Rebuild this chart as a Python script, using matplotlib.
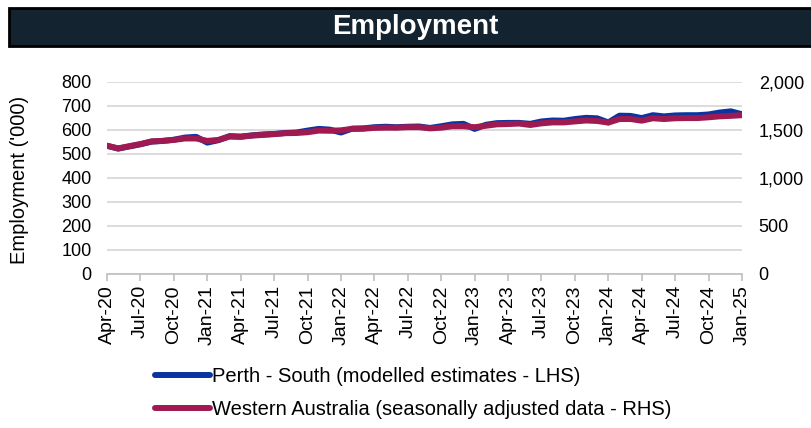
import matplotlib
matplotlib.use("Agg")
import matplotlib.pyplot as plt
from matplotlib.patches import Rectangle
from matplotlib.ticker import FuncFormatter, MultipleLocator

plt.rcParams['font.family'] = ['Liberation Sans', 'DejaVu Sans']

months = ["Apr-20", "May-20", "Jun-20", "Jul-20", "Aug-20", "Sep-20", "Oct-20", "Nov-20", "Dec-20",
          "Jan-21", "Feb-21", "Mar-21", "Apr-21", "May-21", "Jun-21", "Jul-21", "Aug-21", "Sep-21",
          "Oct-21", "Nov-21", "Dec-21", "Jan-22", "Feb-22", "Mar-22", "Apr-22", "May-22", "Jun-22",
          "Jul-22", "Aug-22", "Sep-22", "Oct-22", "Nov-22", "Dec-22", "Jan-23", "Feb-23", "Mar-23",
          "Apr-23", "May-23", "Jun-23", "Jul-23", "Aug-23", "Sep-23", "Oct-23", "Nov-23", "Dec-23",
          "Jan-24", "Feb-24", "Mar-24", "Apr-24", "May-24", "Jun-24", "Jul-24", "Aug-24", "Sep-24",
          "Oct-24", "Nov-24", "Dec-24", "Jan-25"]

perth_south = [533, 521, 530, 539, 550, 553, 558, 567, 570, 546, 556, 573, 571, 576, 580, 582,
               586, 588, 596, 603, 600, 588, 604, 605, 610, 612, 610, 612, 613, 607, 614, 622,
               624, 603, 620, 627, 628, 628, 624, 634, 638, 637, 644, 649, 647, 630, 658, 657,
               648, 660, 655, 659, 660, 660, 663, 671, 676, 664]

western_australia = [1332, 1305, 1328, 1350, 1378, 1383, 1393, 1408, 1408, 1383, 1393, 1428, 1425,
                     1438, 1445, 1453, 1463, 1465, 1473, 1490, 1488, 1493, 1508, 1510, 1518, 1520,
                     1520, 1525, 1525, 1513, 1520, 1535, 1535, 1525, 1540, 1555, 1558, 1563, 1548,
                     1565, 1575, 1575, 1585, 1595, 1590, 1573, 1610, 1610, 1593, 1618, 1610, 1618,
                     1620, 1620, 1628, 1638, 1643, 1650]

label_perth = "Perth - South (modelled estimates - LHS)"
label_wa = "Western Australia (seasonally adjusted data - RHS)"
title = "Employment"
ylabel = "Employment ('000)"

W, H = 811, 428
fig = plt.figure(figsize=(W / 100, H / 100), dpi=100)

# Title bar
fig.patches.append(Rectangle((9 / W, 1 - 46 / H), 1.0, 38 / H, transform=fig.transFigure,
                             facecolor="#13232f", edgecolor="black", linewidth=2, zorder=0))
fig.text(415 / W, 1 - 27 / H, title, color="white", fontsize=20, fontweight="bold",
         ha="center", va="center")

ax = fig.add_axes([107 / W, 1 - 274 / H, (742 - 107) / W, (274 - 81.5) / H])
x = list(range(len(months)))

ax.set_ylim(0, 800)
ax.set_xlim(0, len(months) - 1)
ax.yaxis.set_major_locator(MultipleLocator(100))
ax.grid(axis="y", color="#d9d9d9", linewidth=1.3)
ax.set_axisbelow(True)
for s in ["left", "right", "top"]:
    ax.spines[s].set_visible(False)
ax.spines["bottom"].set_color("#bfbfbf")
ax.spines["bottom"].set_linewidth(1.2)
ax.tick_params(axis="y", length=0, pad=11, labelsize=13)
ax.set_xticks(x[::3])
ax.set_xticklabels(months[::3], rotation=90, fontsize=14)
ax.tick_params(axis="x", length=5, color="#bfbfbf", width=1.2, pad=3)
fig.text(20 / W, 1 - 180 / H, ylabel, fontsize=14.5, rotation=90, ha="center", va="center")

l1, = ax.plot(x, perth_south, color="#0a34a0", linewidth=4.3, solid_capstyle="round",
              label=label_perth, zorder=3)

ax2 = ax.twinx()
ax2.set_ylim(0, 2000)
ax2.yaxis.set_major_locator(MultipleLocator(500))
ax2.yaxis.set_major_formatter(FuncFormatter(lambda v, p: f"{int(v):,}"))
for s in ["left", "right", "top", "bottom"]:
    ax2.spines[s].set_visible(False)
ax2.tick_params(axis="y", length=0, pad=12, labelsize=13)
l2, = ax2.plot(x, western_australia, color="#a01a52", linewidth=4.3, solid_capstyle="round",
               label=label_wa, zorder=4)

fig.legend(handles=[l1, l2], loc="upper left", bbox_to_anchor=(147 / W, 1 - 359 / H),
           frameon=False, fontsize=14.5, handlelength=2.75, handletextpad=0.1,
           labelspacing=0.7, borderaxespad=0)

fig.savefig("out.png", dpi=100)
